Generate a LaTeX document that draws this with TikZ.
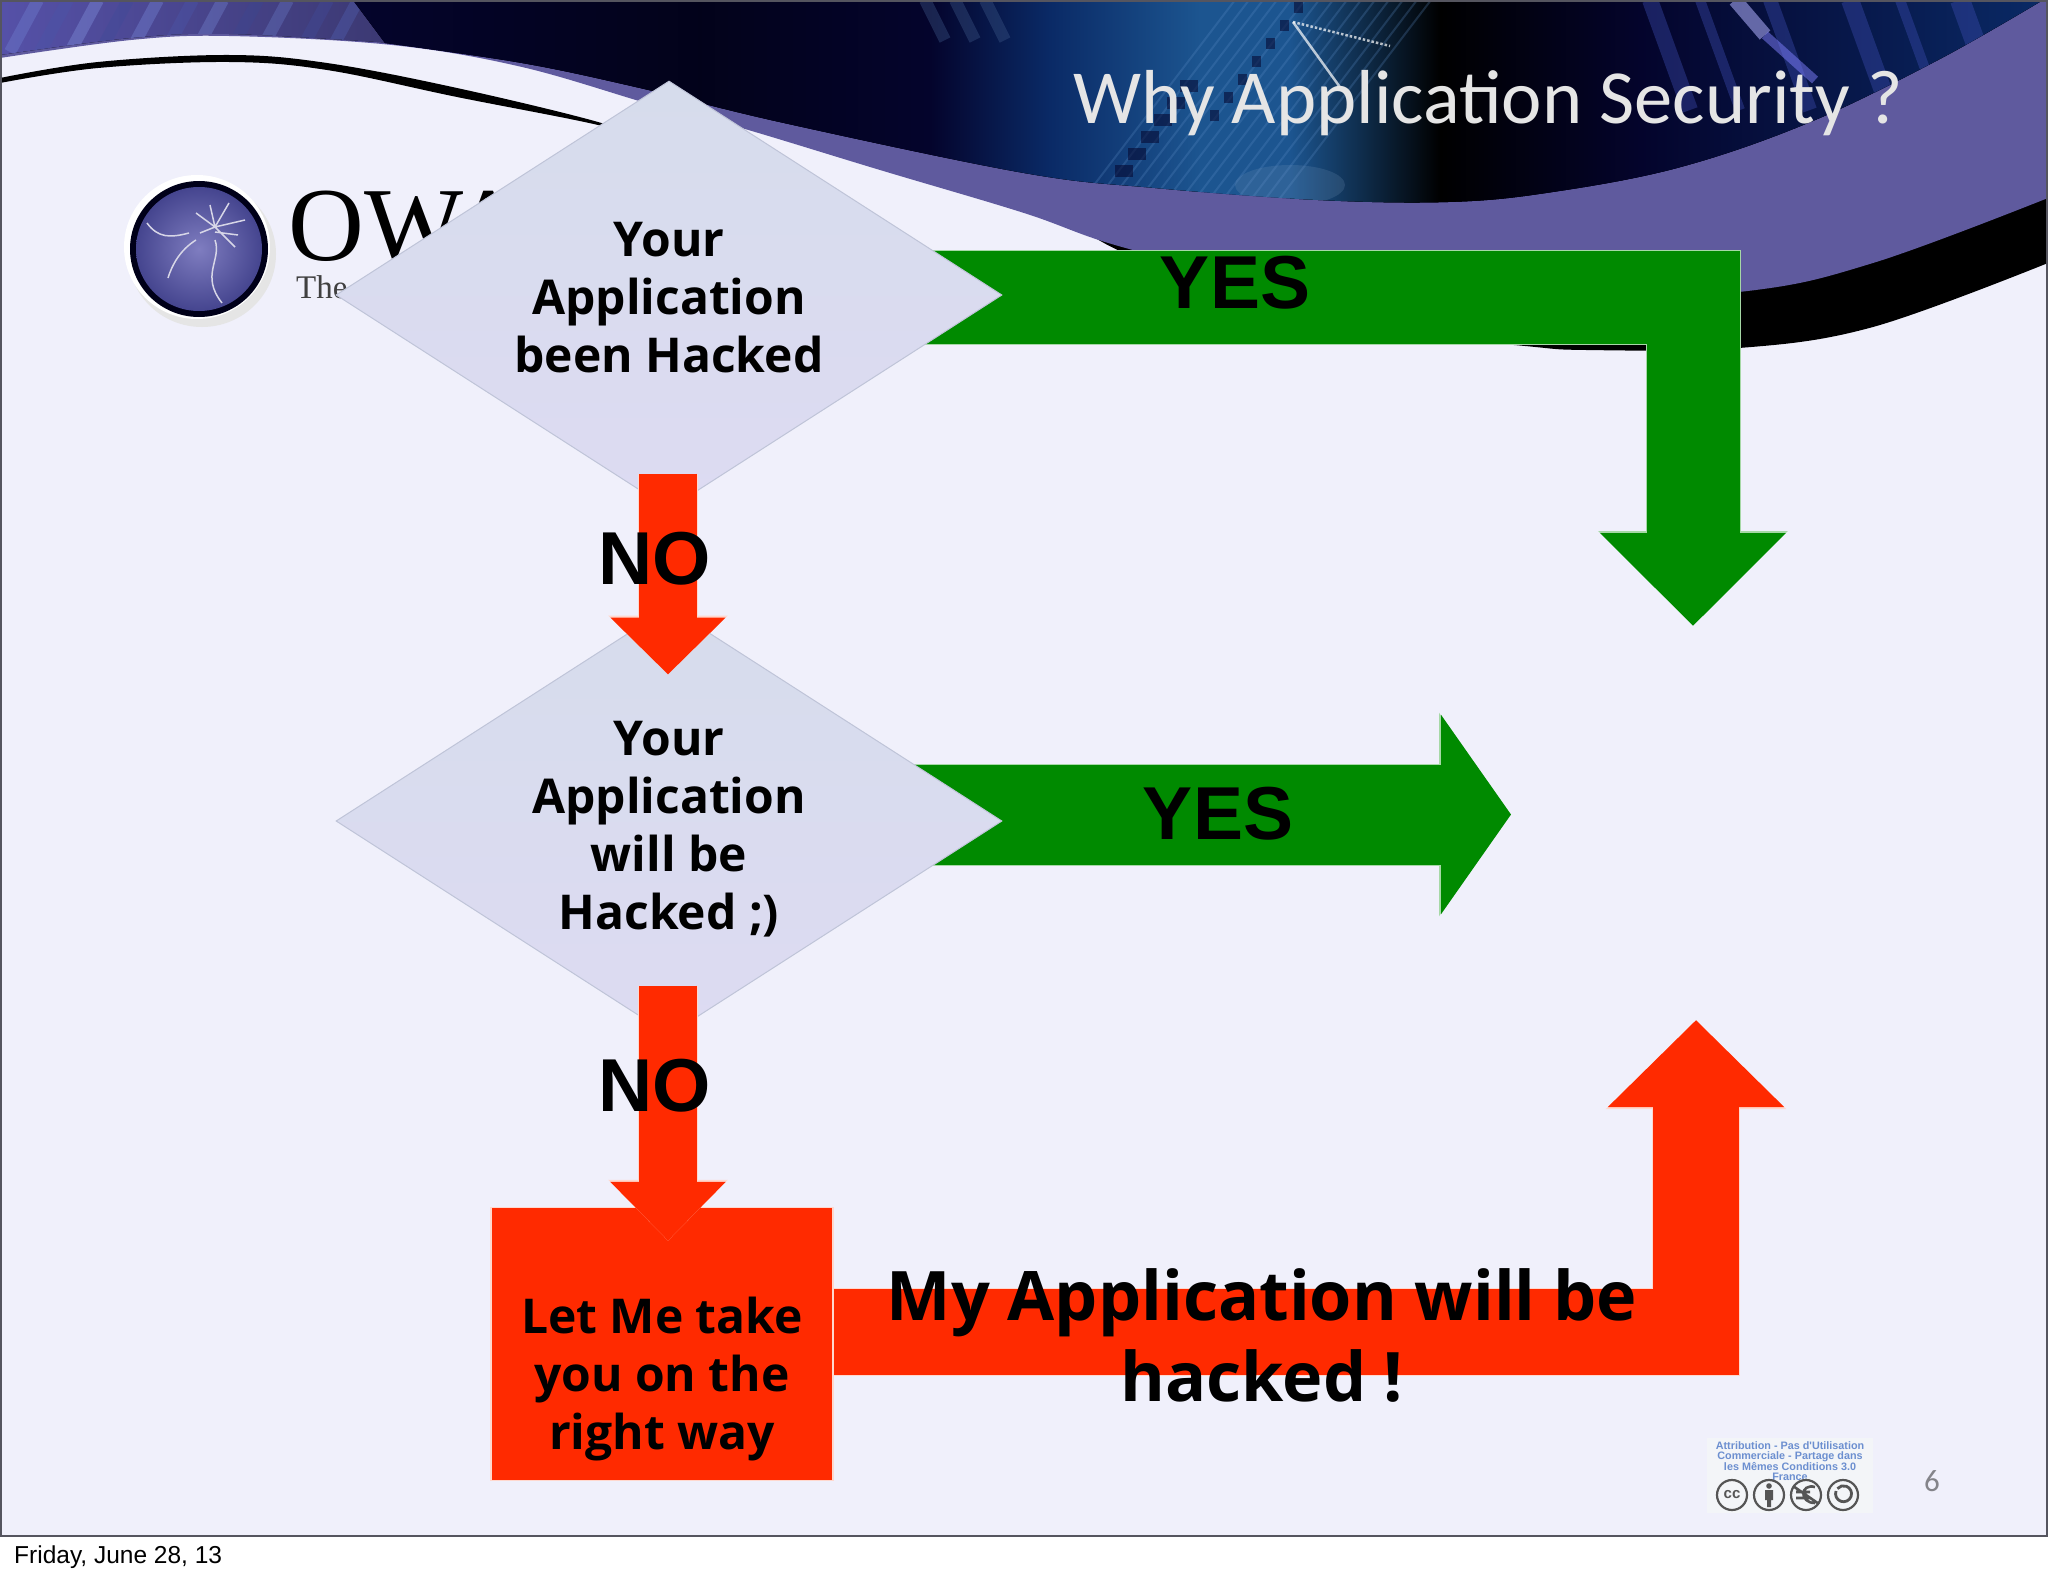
\documentclass[tikz,border=0pt]{standalone}
\usepackage{fontspec}
\setmainfont{Open Sans}
\newfontfamily\carlito{Carlito}
\newfontfamily\arialf{Liberation Sans}
\newfontfamily\timesf{Liberation Serif}
\usetikzlibrary{shapes.geometric,arrows.meta}
\definecolor{slidebg}{HTML}{F0F0FB}
\definecolor{band}{HTML}{5F5A9E}
\definecolor{navy}{HTML}{04042C}
\definecolor{arrowgreen}{HTML}{008A00}
\definecolor{arrowred}{HTML}{FF2A00}
\definecolor{greenedge}{HTML}{A6D8A6}
\definecolor{rededge}{HTML}{FFD8CE}
\definecolor{frameline}{HTML}{55555F}
\definecolor{D1}{HTML}{D6DCEC}
\definecolor{D2}{HTML}{DDDBF2}
\definecolor{D3}{HTML}{BFC4D8}
\definecolor{ccgrey}{HTML}{555555}
\definecolor{ccpaper}{HTML}{F3F5F8}
\definecolor{cctext}{HTML}{6C8FD0}
\definecolor{logoin}{HTML}{7F7DC0}
\definecolor{logoout}{HTML}{45458F}
\pgfdeclarelayer{back}
\pgfdeclarelayer{flow}
\pgfdeclarelayer{front}
\pgfsetlayers{back,flow,main,front}
\tikzset{
  block/.style n args={5}{draw=#1,line width=#3bp,line join=miter,
    -{Triangle[length=#4bp,width=#5bp,fill=#1]},
    preaction={draw=#2,line width=#3bp+2bp,-{Triangle[length=#4bp+2bp,width=#5bp+4bp,fill=#2]}}},
  query/.style={shape=diamond,shape aspect=1.556,minimum width=666bp,minimum height=428bp,inner sep=0pt,
    top color=D1,bottom color=D2,draw=D3,line width=1bp,align=center,
    font=\bfseries\fontsize{48bp}{58bp}\selectfont},
  answer/.style={font=\arialf\bfseries\fontsize{75bp}{80bp}\selectfont,text=black,inner sep=0pt},
  ccring/.style={draw=ccgrey,line width=2.2bp,fill=ccpaper},
}
\begin{document}
\begin{tikzpicture}[x=1bp,y=-1bp]
\useasboundingbox (0,0) rectangle (2048,1576);
\begin{pgfonlayer}{back}
\fill[white] (0,0) rectangle (2048,1576);
\fill[slidebg] (0,0) rectangle (2048,1536);
% black swoosh right
\fill[black] plot[smooth,tension=.6] coordinates {(1080,225) (1122,252) (1300,325) (1514,345) (1586,350) (1739,348) (1873,327) (2048,263)} -- (2048,100) -- (1080,100) -- cycle;
% black swoosh left
\fill[black] plot[smooth,tension=.6] coordinates {(0,78) (98,62) (229,55) (327,63) (457,88) (598,122) (640,140)} -- plot[smooth,tension=.6] coordinates {(640,140) (598,125) (457,97) (327,70) (229,62) (98,68) (0,83)} -- cycle;
% purple band
\fill[band] (0,0) -- (0,58) -- plot[smooth,tension=.6] coordinates {(0,58) (131,40) (229,36) (392,45) (522,67) (653,105) (738,127) (880,170) (1024,213) (1122,247) (1300,290) (1500,305) (1739,292) (1873,263) (2048,198)} -- (2048,0) -- cycle;
% textured top-left
\begin{scope}
\clip (0,0) -- (0,55) -- plot[smooth,tension=.6] coordinates {(0,55) (131,38) (229,34) (392,43)} -- (353,0) -- cycle;
\fill[left color=band!90!blue,right color=band!60!navy] (0,0) rectangle (400,60);
\foreach \x/\c in {10/6F7FD0,40/4A55A8,70/8090DC,100/3F4A98,130/7585D5,165/4A55A8,195/7080CC,230/3C4690,260/6575C0,300/404A98,330/5060B0}
  {\definecolor{st}{HTML}{\c}\draw[st,line width=12bp,opacity=.4] (\x,52)--(\x+28,0);}
\end{scope}
% dark image area
\begin{scope}
\clip (353,0) -- (385,43) -- plot[smooth,tension=.6] coordinates {(385,43) (522,63) (640,88) (784,123) (1024,173) (1155,188) (1318,200) (1448,202) (1546,193) (1677,168) (1808,123) (1938,60) (2043,0)} -- cycle;
\fill[navy] (340,0) rectangle (2048,210);
\fill[left color=navy,right color=navy!60!black] (340,0) rectangle (700,210);
\fill[left color=navy!60!black,right color=navy] (700,0) rectangle (930,210);
\definecolor{gl}{HTML}{1C5590}
\definecolor{gd}{HTML}{0A2A66}
\fill[left color=navy,right color=gd] (930,0) rectangle (1050,210);
\fill[left color=gd,right color=gl] (1050,0) rectangle (1200,210);
\fill[gl] (1200,0) rectangle (1290,210);
\fill[left color=gl,right color=black] (1290,0) rectangle (1440,210);
\fill[left color=black,right color=navy] (1440,0) rectangle (1640,210);
\fill[left color=navy,right color=gd] (1640,0) rectangle (2048,210);
\definecolor{sk}{HTML}{5F8FC8}
\foreach \i in {0,...,14} \draw[sk,opacity=.25,line width=2bp] (1075+\i*14,210)--(1235+\i*14,0);
\foreach \i in {0,...,7} \fill[navy,opacity=.55] (1210+\i*14,110-\i*18) rectangle +(9,11);
\foreach \i in {0,...,5} \fill[navy,opacity=.55] (1115+\i*13,165-\i*17) rectangle +(18,12);
\draw[white,opacity=.7,line width=2.5bp] (1293,22)--(1342,90);
\draw[white,opacity=.7,line width=2.5bp,dotted] (1293,22)--(1390,46);
\fill[gl!60!white,opacity=.2] (1290,185) ellipse (55 and 20);
\definecolor{sb}{HTML}{3C4CB0}
\foreach \x/\w in {1650/16,1700/10,1770/14,1850/18,1900/10,1960/20}
  \draw[sb,line width=\w bp,opacity=.4] (\x,0)--(\x+40,110);
\draw[white!70!blue,line width=14bp,opacity=.55] (1735,0)--(1765,35);
\draw[white!50!blue,line width=9bp,opacity=.5] (1765,35)--(1815,80);
\foreach \x in {455,485,515} \draw[gd!80!white,line width=12bp,opacity=.4] (\x+470,0)--(\x+490,40);
\end{scope}
\draw[frameline,line width=2bp] (1,1) rectangle (2047,1536);
% logo
\fill[black!10] (202,254) ellipse (74 and 73);
\fill[white] (197,247) ellipse (73 and 72);
\fill[black!90!blue] (199,249) ellipse (69 and 68);
\shade[inner color=logoin,outer color=logoout] (199,249) ellipse (63 and 62);
\draw[white!75!band,line width=1.5bp]
  (147,223) .. controls (158,238) and (170,238) .. (189,233)
  (196,240) .. controls (180,250) and (172,265) .. (168,278)
  (215,240) .. controls (222,260) and (200,275) .. (222,303)
  (200,233)--(215,227) (215,227)--(229,203) (215,227)--(196,213) (215,227)--(245,220) (215,227)--(235,247) (215,227)--(210,205) (215,232)--(238,235);
\node[font=\timesf\fontsize{105bp}{105bp}\selectfont,anchor=base west,inner sep=0pt] (owasp) at (288,260) {OWA};
\node[font=\timesf\fontsize{33bp}{33bp}\selectfont,anchor=base west,inner sep=0pt,text=black!75] (tagline) at (296,298) {The};
\node[font=\carlito\fontsize{76.5bp}{76.5bp}\selectfont,text=black!10,anchor=base west,inner sep=0pt] (title) at (1073,124) {Why Application Security ?};
\end{pgfonlayer}

\node[query] (d1) at (669,295) {\rule{0pt}{40bp}Your\\Application\\been Hacked};
\node[query] (d2) at (669,821) {\rule{0pt}{50bp}Your\\Application\\will be\\Hacked ;)};
\node[draw=rededge,line width=1.5bp,fill=arrowred,minimum width=342bp,minimum height=273bp,inner sep=0pt,align=center,
  font=\bfseries\fontsize{48bp}{58bp}\selectfont] (fix) at (662,1344) {\rule{0pt}{106bp}Let Me take\\you on the\\right way};
\coordinate (outA) at (1693,626);
\coordinate (outB) at (1511,814.5);
\coordinate (outC) at (1696,1020);

\begin{pgfonlayer}{flow}
\draw[block={arrowgreen}{greenedge}{93}{93}{180}] ([yshift=-2bp]d1.center) -| (outA);
\draw[block={arrowgreen}{greenedge}{100}{70}{196}] (d2.center |- outB) -- (outB);
\end{pgfonlayer}

\begin{pgfonlayer}{front}
\draw[block={arrowred}{rededge}{86}{87}{171}] (fix.east |- 0,1331.5) -| (outC);
\draw[block={arrowred}{rededge}{58}{57}{112},shorten <=-36bp,shorten >=-68bp] ([xshift=-1bp]d1.south) -- ([xshift=-1bp]d2.north);
\draw[block={arrowred}{rededge}{58}{59}{112},shorten <=-50bp,shorten >=-34bp] ([xshift=-1bp]d2.south) -- ([xshift=-1bp]d2.south |- fix.north);
\node[answer] (yes1) at (1235,283) {YES};
\node[answer] (yes2) at (1218,814) {YES};
\node[answer] (no1) at (655,559) {NO};
\node[answer] (no2) at (655,1086) {NO};
\node[font=\bfseries\fontsize{68.3bp}{81bp}\selectfont,align=center,inner sep=0pt] (verdict) at (1262,1335) {My Application will be\\hacked !};
% licence badge
\node[fill=ccpaper,minimum width=166bp,minimum height=75bp,inner sep=0pt] (badge) at (1790,1475.5) {};
\node[font=\arialf\bfseries\fontsize{10.8bp}{10.5bp}\selectfont,text=cctext,align=center,inner sep=0pt,anchor=north] (badgetext) at (1790,1441) {Attribution - Pas d'Utilisation\\Commerciale - Partage dans\\les Mêmes Conditions 3.0\\France};
\node[ccring,circle,minimum size=30bp,inner sep=0pt,font=\arialf\bfseries\fontsize{15bp}{15bp}\selectfont,text=ccgrey] (cc1) at (1732,1495) {cc};
\node[ccring,circle,minimum size=30bp,inner sep=0pt] (cc2) at (1769,1495) {};
\fill[ccgrey] (1769,1486) circle (2.8) (1765,1490) rectangle (1773,1500) (1767,1500) rectangle (1771,1507);
\node[ccring,circle,minimum size=30bp,inner sep=0pt] (cc3) at (1806,1495) {};
\draw[ccgrey,line width=2.6bp] (1815,1487) .. controls (1800,1483) and (1799,1503) .. (1815,1503) (1796,1492)--(1810,1492) (1796,1498)--(1810,1498) (1793,1486)--(1819,1504);
\node[ccring,circle,minimum size=30bp,inner sep=0pt] (cc4) at (1843,1495) {};
\draw[ccgrey,line width=2.8bp] (1836,1491) arc (200:-140:8);
\node[font=\carlito\fontsize{31bp}{31bp}\selectfont,text=black!45!slidebg,inner sep=0pt] (page) at (1932,1481) {6};
\node[font=\arialf\fontsize{24.5bp}{25bp}\selectfont,anchor=base west,inner sep=0pt] (date) at (14,1563) {Friday, June 28, 13};
\end{pgfonlayer}
\end{tikzpicture}
\end{document}
